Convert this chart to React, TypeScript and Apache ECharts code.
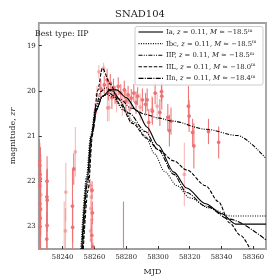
import React, { useEffect, useRef } from "react";
import * as echarts from "echarts";

const xTicks = [58240, 58260, 58280, 58300, 58320, 58340, 58360];
const yTicks = [19, 20, 21, 22, 23];

// observations (darker points)
const darkMjd = [58225.4, 58225.6, 58225.8, 58226.0, 58225.5, 58225.7, 58226.1, 58225.9, 58225.6,
  58230.2, 58230.1, 58230.3, 58230.2, 58230.0,
  58246.2, 58246.3, 58247.0,
  58258.5, 58258.7, 58258.4, 58259.0, 58278.3,
  58260.5, 58264.0, 58266.2, 58268.0, 58268.8, 58270.0, 58271.0, 58272.0, 58273.0, 58275.0,
  58276.6, 58278.8, 58279.8, 58281.2, 58283.2, 58284.8, 58286.2, 58287.2, 58290.2, 58292.2,
  58293.2, 58294.2, 58298.2, 58296.5, 58301.2, 58302.2, 58302.4, 58306.2, 58307.2, 58308.2,
  58319.2, 58319.6, 58321.8, 58322.6, 58331.8, 58338.2];
const darkMag = [21.55, 21.65, 21.85, 21.95, 22.1, 22.5, 22.62, 22.82, 23.0,
  22.0, 22.35, 22.42, 22.98, 23.28,
  22.55, 23.02, 21.73,
  22.2, 22.7, 23.2, 23.45, 23.9,
  20.48, 19.95, 19.87, 19.76, 20.01, 19.83, 20.15, 19.93, 20.09, 19.9,
  20.05, 19.98, 20.23, 20.09, 20.16, 20.05, 20.26, 20.12, 20.2, 20.3,
  20.2, 20.7, 20.05, 20.45, 20.48, 20.02, 20.12, 20.59, 20.88, 20.67,
  20.34, 20.56, 20.92, 21.22, 20.9, 21.14];
const darkErr = [0.48, 0.5, 0.6, 0.7, 0.8, 0.9, 0.9, 0.9, 0.8,
  0.55, 0.6, 0.7, 0.8, 0.6,
  0.8, 0.6, 0.35,
  0.2, 0.25, 0.3, 0.1, 1.45,
  0.2, 0.2, 0.2, 0.25, 0.2, 0.2, 0.25, 0.2, 0.2, 0.2,
  0.2, 0.2, 0.25, 0.2, 0.2, 0.2, 0.25, 0.2, 0.25, 0.25,
  0.25, 0.3, 0.25, 0.3, 0.3, 0.22, 0.3, 0.3, 0.35, 0.3,
  0.45, 0.35, 0.3, 0.5, 0.28, 0.35];

// observations (lighter points)
const lightMjd = [58226.3, 58241.0, 58242.0, 58241.8, 58248.0,
  58257.5, 58258.0, 58257.8, 58258.3, 58257.6, 58258.1,
  58261.6, 58262.8, 58265.8, 58268.2, 58269.2, 58274.0, 58277.6, 58282.2, 58288.8,
  58296.2, 58299.5, 58316.6];
const lightMag = [22.3, 23.6, 22.24, 23.1, 21.35,
  22.1, 22.35, 22.6, 22.85, 23.1, 23.3,
  20.09, 19.58, 19.5, 20.38, 20.37, 20.23, 20.3, 20.41, 20.36,
  20.41, 20.34, 21.85];
const lightErr = [0.9, 1.15, 0.65, 0.5, 0.55,
  0.15, 0.2, 0.2, 0.25, 0.25, 0.3,
  0.2, 0.15, 0.12, 0.3, 0.3, 0.25, 0.25, 0.3, 0.3,
  0.3, 0.3, 0.7];

// model curves
const iaMjd = [58252.0, 58255.5, 58258.0, 58261.0, 58265.0, 58270.0, 58274.0, 58280.0, 58287.0, 58293.0, 58300.0, 58310.0, 58318.0, 58330.0, 58340.0, 58349.0, 58368.0];
const iaMag = [23.5, 21.9, 21.0, 20.45, 20.12, 19.98, 19.98, 20.15, 20.45, 20.8, 21.2, 21.8, 22.15, 22.5, 22.72, 22.95, 22.95];

const ibcMjd = [58251.5, 58255.0, 58257.5, 58260.5, 58264.0, 58268.0, 58272.0, 58278.0, 58285.0, 58292.0, 58298.0, 58304.0, 58312.0, 58320.0, 58332.0, 58346.0, 58368.0];
const ibcMag = [23.5, 21.9, 21.0, 20.45, 20.15, 20.08, 20.15, 20.42, 20.7, 21.0, 21.4, 21.78, 22.1, 22.37, 22.59, 22.77, 22.77];

const iipMjd = [58252.5, 58255.5, 58258.0, 58261.0, 58264.0, 58267.0, 58271.0, 58276.0, 58283.0, 58292.0, 58300.0, 58309.0, 58330.0, 58350.0, 58368.0];
const iipMag = [23.5, 22.0, 21.0, 20.35, 20.02, 19.93, 20.0, 20.18, 20.38, 20.52, 20.6, 20.67, 20.85, 20.99, 21.5];

const iilMjd = [58253.0, 58256.0, 58259.0, 58262.0, 58265.0, 58270.0, 58276.0, 58284.0, 58293.0, 58300.0, 58310.0, 58318.0, 58330.0, 58338.0, 58345.0, 58352.0, 58358.0];
const iilMag = [23.5, 22.2, 20.9, 20.0, 19.5, 19.85, 20.3, 20.72, 21.05, 21.3, 21.55, 21.75, 22.1, 22.45, 22.92, 23.2, 23.5];

const iinMjd = [58252.5, 58255.8, 58258.5, 58261.5, 58265.0, 58269.0, 58274.0, 58282.0, 58292.0, 58300.0, 58310.0, 58318.0, 58330.0, 58345.0, 58368.0];
const iinMag = [23.5, 22.0, 21.0, 20.4, 20.12, 20.05, 20.15, 20.5, 20.9, 21.3, 21.85, 22.25, 22.55, 22.84, 23.3];

const legendLabels = [
  ["Ia", "-18.5"],
  ["Ibc", "-18.5"],
  ["IIP", "-18.5"],
  ["IIL", "-18.0"],
  ["IIn", "-18.4"],
];

const FONT = "DejaVu Serif";
const dashes: (number[] | "solid")[] = [
  "solid",
  [1, 1.4],
  [4, 1.3, 1, 1.3, 1, 1.3],
  [3.5, 1.6],
  [5, 1.3, 1, 1.3],
];

function zip(a: number[], b: number[], c?: number[]) {
  return a.map((v, i) => (c ? [v, b[i], c[i]] : [v, b[i]]));
}

function errSeries(data: number[][], color: string) {
  return {
    type: "custom",
    clip: true,
    z: 2,
    encode: { x: 0, y: 1 },
    data,
    renderItem: (params: any, api: any) => {
      const x = api.value(0);
      const y = api.value(1);
      const e = api.value(2);
      const t = api.coord([x, y - e]);
      const b = api.coord([x, y + e]);
      const c = api.coord([x, y]);
      return {
        type: "group",
        children: [
          { type: "line", shape: { x1: t[0], y1: t[1], x2: b[0], y2: b[1] }, style: { stroke: color, lineWidth: 1.1 } },
          { type: "circle", shape: { cx: c[0], cy: c[1], r: 1.9 }, style: { fill: color } },
        ],
      };
    },
  };
}

export default function App() {
  const ref = useRef<HTMLDivElement>(null);
  useEffect(() => {
    if (!ref.current) return;
    const chart = echarts.init(ref.current, null, { renderer: "svg" });
    const curves = [
      zip(iaMjd, iaMag),
      zip(ibcMjd, ibcMag),
      zip(iipMjd, iipMag),
      zip(iilMjd, iilMag),
      zip(iinMjd, iinMag),
    ];
    const lineSeries = curves.map((d, i) => ({
      type: "line",
      data: d,
      symbol: "none",
      smooth: 0.3,
      smoothMonotone: "x",
      z: 3,
      lineStyle: { color: "#000", width: 1.1, type: dashes[i] },
    }));

    const legendY0 = 32;
    const legendDy = 11.6;
    const legendEls: any[] = [
      {
        type: "rect",
        z: 100,
        shape: { x: 135, y: 26.5, width: 128, height: 58.5, r: 2 },
        style: { fill: "rgba(255,255,255,0.85)", stroke: "#cccccc", lineWidth: 1 },
      },
    ];
    legendLabels.forEach((l, i) => {
      const y = legendY0 + i * legendDy;
      legendEls.push({
        type: "line",
        z: 101,
        shape: { x1: 138.5, y1: y, x2: 163, y2: y },
        style: { stroke: "#000", lineWidth: 1.1, lineDash: dashes[i] === "solid" ? null : dashes[i] },
      });
      legendEls.push({
        type: "text",
        z: 101,
        x: 166,
        y: y,
        style: {
          text: `{a|${l[0]}, }{i|z}{a| = 0.11, }{i|M}{a| ≃ ${l[1].replace("-", "−")}}{s|m}`,
          verticalAlign: "middle",
          rich: {
            a: { fontFamily: FONT, fontSize: 6.8, fill: "#222", lineHeight: 9 },
            i: { fontFamily: FONT, fontSize: 6.8, fontStyle: "italic", fill: "#222", lineHeight: 9 },
            s: { fontFamily: FONT, fontSize: 4.6, fill: "#222", lineHeight: 9, verticalAlign: "top" },
          },
        },
      });
    });

    chart.setOption({
      animation: false,
      title: {
        text: "SNAD104",
        left: "center",
        top: 3,
        textStyle: { fontFamily: FONT, fontSize: 10, fontWeight: "normal", color: "#222" },
      },
      grid: {
        left: 28,
        right: 14,
        top: 23,
        bottom: 28,
        show: true,
        borderColor: "#a0a0a0",
        borderWidth: 1.8,
        backgroundColor: "transparent",
      },
      xAxis: {
        type: "value",
        min: 58225,
        max: 58368,
        name: "MJD",
        nameLocation: "middle",
        nameGap: 18,
        nameTextStyle: { fontFamily: FONT, fontSize: 8, color: "#222" },
        axisLine: { show: false },
        splitLine: { show: false },
        axisTick: { show: true, inside: true, length: 3, customValues: xTicks, lineStyle: { color: "#333" } },
        axisLabel: { customValues: xTicks, formatter: (v: number) => String(v), fontFamily: FONT, fontSize: 6.8, color: "#222", margin: 4 },
      },
      yAxis: {
        type: "value",
        min: 18.5,
        max: 23.5,
        inverse: true,
        name: "{a|magnitude, }{i|zr}",
        nameLocation: "middle",
        nameGap: 19,
        nameRotate: 90,
        nameTextStyle: {
          rich: {
            a: { fontFamily: FONT, fontSize: 8, color: "#222" },
            i: { fontFamily: FONT, fontSize: 8, fontStyle: "italic", color: "#222" },
          },
        },
        axisLine: { show: false },
        splitLine: { show: false },
        axisTick: { show: true, inside: true, length: 3, customValues: yTicks, lineStyle: { color: "#333" } },
        axisLabel: { customValues: yTicks, formatter: (v: number) => String(v), fontFamily: FONT, fontSize: 7, color: "#222", margin: 3 },
      },
      graphic: [
        {
          type: "text",
          z: 100,
          x: 35,
          y: 33,
          style: { text: "Best type: IIP", fontFamily: FONT, fontSize: 7.8, fill: "#222", verticalAlign: "middle" },
        },
        ...legendEls,
      ],
      series: [
        errSeries(zip(lightMjd, lightMag, lightErr), "rgba(240,128,128,0.55)"),
        errSeries(zip(darkMjd, darkMag, darkErr), "rgba(236,112,114,0.95)"),
        ...lineSeries,
      ],
    });
    return () => chart.dispose();
  }, []);
  return <div ref={ref} style={{ position: "fixed", left: 0, top: 0, width: 280, height: 280 }} />;
}
